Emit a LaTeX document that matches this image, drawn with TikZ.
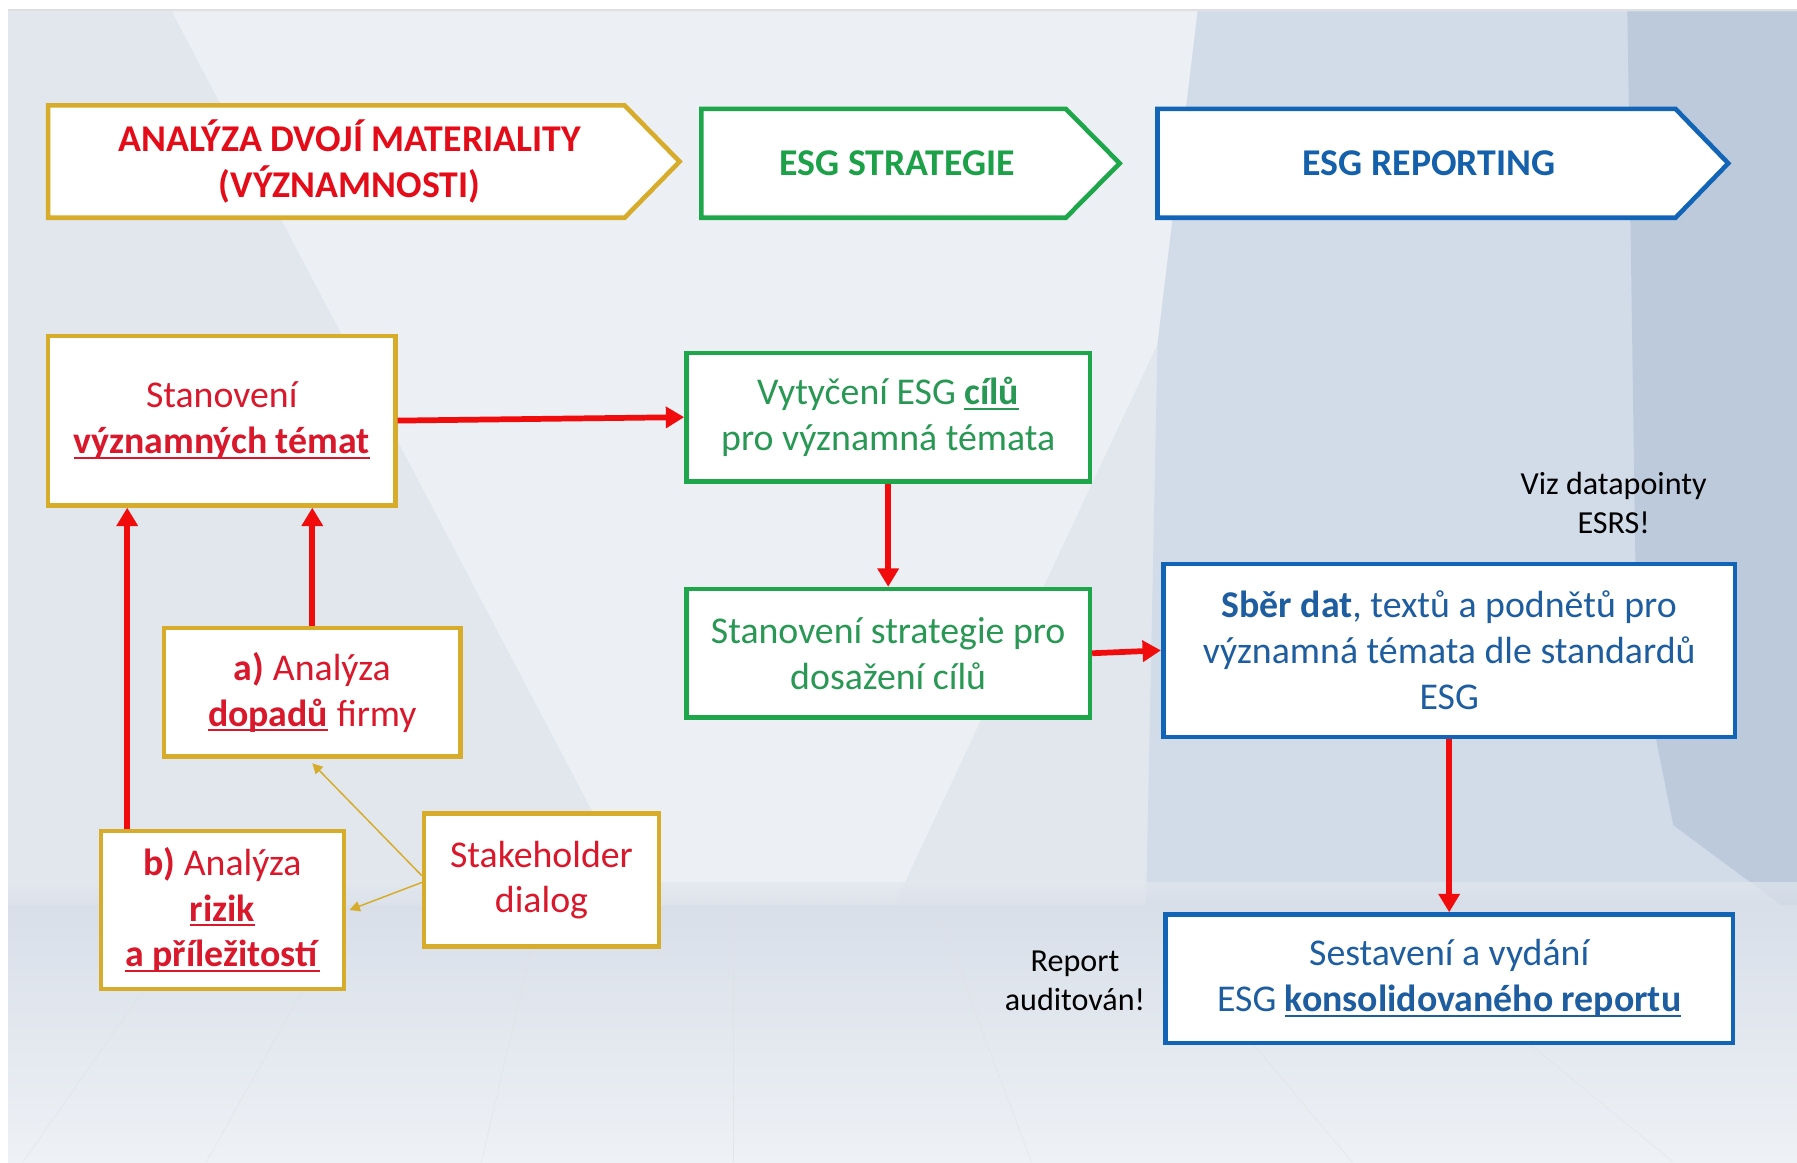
\documentclass[tikz,border=0pt]{standalone}
\usepackage{fontspec}
\setmainfont{Carlito}
\usetikzlibrary{arrows.meta}
\definecolor{gold}{RGB}{214,172,42}
\definecolor{hred}{RGB}{228,12,24}
\definecolor{bred}{RGB}{218,24,44}
\definecolor{agreen}{RGB}{30,166,74}
\definecolor{hgreen}{RGB}{28,160,72}
\definecolor{tgreen}{RGB}{40,152,84}
\definecolor{ablue}{RGB}{18,100,182}
\definecolor{hblue}{RGB}{20,96,170}
\definecolor{tblue}{RGB}{30,94,160}
\definecolor{arrred}{RGB}{240,12,12}
\definecolor{bgbase}{RGB}{226,231,238}
\definecolor{bglight}{RGB}{236,239,244}
\definecolor{bgright}{RGB}{210,220,232}
\definecolor{bgrr}{RGB}{188,202,220}
\definecolor{floortop}{RGB}{216,223,233}
\definecolor{floorbot}{RGB}{238,241,245}
\newcommand{\myul}[1]{\setbox0\hbox{#1}\rlap{\rule[-4.5pt]{\wd0}{1.8pt}}\box0\relax}
\begin{document}
\begin{tikzpicture}[x=1pt,y=-1pt,
  boxbase/.style={draw, line width=4pt, fill=white, align=center, inner sep=0pt,
    font=\fontsize{33}{40}\selectfont},
  goldbox/.style={boxbase, draw=gold, text=bred},
  greenbox/.style={boxbase, draw=agreen, text=tgreen},
  bluebox/.style={boxbase, draw=ablue, text=tblue},
  headtext/.style={align=center, font=\fontsize{33}{40}\selectfont\bfseries},
  note/.style={align=center, text=black, font=\fontsize{28}{34}\selectfont},
  redarr/.style={draw=arrred, line width=5pt, -{Triangle[width=18pt,length=16pt]}},
  goldarr/.style={draw=gold, line width=1.3pt, -{Triangle[width=9pt,length=9pt]}},
  headshape/.style={line width=4pt, fill=white, line join=miter}
]
\useasboundingbox (0,0) rectangle (1568,1014);
% background
\fill[white] (0,0) rectangle (1568,1014);
\fill[bgbase] (7,10) rectangle (1568,1014);
\fill[bglight] (150,10) -- (1045,10) -- (1010,300) -- (780,790) -- (560,790) -- cycle;
\fill[bgright] (1045,10) -- (1568,10) -- (1568,790) -- (1000,790) -- (1010,300) -- cycle;
\fill[bgrr] (1420,10) -- (1568,10) -- (1568,800) -- (1460,720) -- (1428,560) -- cycle;
\shade[top color=floortop, bottom color=floorbot] (7,790) rectangle (1568,1014);
\shade[top color=bgbase, bottom color=floortop, opacity=0.7] (7,770) rectangle (1568,792);
\draw[gray!25, line width=2pt] (7,9) -- (1568,9);
\foreach \a/\b in {20/170, 180/300, 420/470, 640/640, 900/820, 1180/1000, 1460/1200}
  \draw[white!75!gray, line width=0.5pt, opacity=0.6] (\a,1014) -- (\b,800);
% header arrows
\draw[headshape, draw=gold] (42,92) -- (545,92) -- (593,141) -- (545,190) -- (42,190) -- cycle;
\node[headtext, text=hred] (h1) at (305,141) {ANALÝZA DVOJÍ MATERIALITY\\(VÝZNAMNOSTI)};
\draw[headshape, draw=agreen] (612,95) -- (930,95) -- (977,142.5) -- (930,190) -- (612,190) -- cycle;
\node[headtext, text=hgreen] (h2) at (783,142.5) {ESG STRATEGIE};
\draw[headshape, draw=ablue] (1010,95) -- (1462,95) -- (1508,142.5) -- (1462,190) -- (1010,190) -- cycle;
\node[headtext, text=hblue] (h3) at (1247,142.5) {ESG REPORTING};
% left column
\node[goldbox, minimum width=303pt, minimum height=148pt] (st) at (193.5,367)
  {Stanovení\\\myul{\textbf{významných témat}}};
\node[goldbox, minimum width=259pt, minimum height=112pt] (a) at (272.5,604)
  {\textbf{a)} Analýza\\\myul{\textbf{dopadů}} firmy};
\node[goldbox, minimum width=212pt, minimum height=138pt] (b) at (194,794)
  {\textbf{b)} Analýza\\\myul{\textbf{rizik}}\\\myul{\textbf{a příležitostí}}};
\node[goldbox, minimum width=205pt, minimum height=116pt] (sh) at (472.5,768)
  {Stakeholder\\dialog};
% green column
\node[greenbox, minimum width=352pt, minimum height=112pt] (g1) at (775,364)
  {Vytyčení ESG \myul{\textbf{cílů}}\\pro významná témata};
\node[greenbox, minimum width=352pt, minimum height=112pt] (g2) at (775,570)
  {Stanovení strategie pro\\dosažení cílů};
% blue column
\node[bluebox, minimum width=499pt, minimum height=151pt] (b1) at (1264.5,567.5)
  {\textbf{Sběr dat}, textů a podnětů pro\\významná témata dle standardů\\ESG};
\node[bluebox, minimum width=495pt, minimum height=112pt] (b2) at (1264.5,854)
  {Sestavení a vydání\\ESG \myul{\textbf{konsolidovaného reportu}}};
% notes
\node[note] (n1) at (1408,439) {Viz datapointy\\ESRS!};
\node[note] (n2) at (938,856) {Report\\auditován!};
% connectors
\draw[redarr] (st.east) -- (g1.west);
\draw[redarr] (a.north) -- (a.north |- st.south);
\draw[redarr] ([xshift=25pt]b.north west) -- ([xshift=25pt]b.north west |- st.south);
\draw[redarr] (g1.south) -- (g2.north);
\draw[redarr] (g2.east) -- (b1.west);
\draw[redarr] (b1.south) -- (b2.north);
\draw[goldarr] ([yshift=4pt]sh.west) -- ([yshift=-4pt]a.south);
\draw[goldarr] ([yshift=-2pt]sh.west) -- ([xshift=3pt]b.east);
\end{tikzpicture}
\end{document}
